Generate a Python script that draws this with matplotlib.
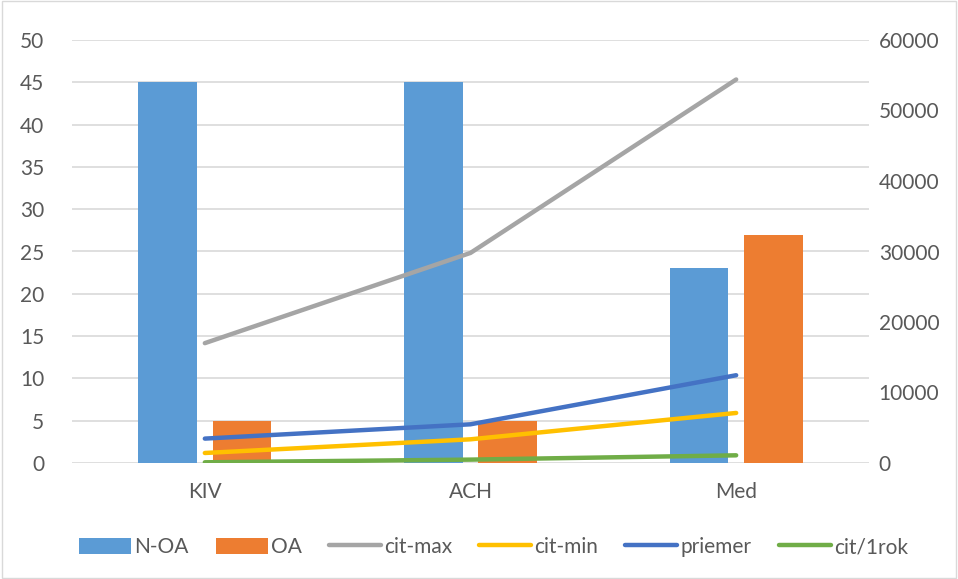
import matplotlib
matplotlib.use("Agg")
import matplotlib.pyplot as plt
import numpy as np
from matplotlib.patches import Rectangle

categories = ["KIV", "ACH", "Med"]
n_oa = [45, 45, 23]
oa = [5, 5, 27]
cit_max = [17000, 29800, 54400]
cit_min = [1420, 3360, 7100]
priemer = [3460, 5490, 12450]
cit_1rok = [100, 480, 1090]

left_ticks = [0, 5, 10, 15, 20, 25, 30, 35, 40, 45, 50]
right_ticks = [0, 10000, 20000, 30000, 40000, 50000, 60000]

plt.rcParams['font.family'] = ['Lato', 'DejaVu Sans']
txt = "#595959"
grid = "#D9D9D9"

fig = plt.figure(figsize=(9.58, 5.79), dpi=100)
W, H = 958, 579
ax = fig.add_axes([72 / W, 1 - 463 / H, (869 - 72) / W, (463 - 40) / H])
ax2 = ax.twinx()

x = np.arange(len(categories))
bw = 0.22
ax.bar(x - 0.14, n_oa, bw, color="#5B9BD5", label="N-OA", zorder=2)
ax.bar(x + 0.14, oa, bw, color="#ED7D31", label="OA", zorder=2)
ax.set_xlim(-0.5, 2.5)
ax.set_ylim(0, 50)
ax.set_yticks(left_ticks)
ax.set_xticks(x)
ax.set_xticklabels(categories)
ax.yaxis.grid(True, color=grid, linewidth=1.2, zorder=0)
ax.set_axisbelow(True)
for s in ax.spines.values():
    s.set_visible(False)
for s in ax2.spines.values():
    s.set_visible(False)
ax.tick_params(axis='both', length=0, labelsize=15, colors=txt)
ax.tick_params(axis='y', pad=20)
ax.tick_params(axis='x', pad=14)

series = [("cit-max", cit_max, "#A5A5A5"), ("cit-min", cit_min, "#FFC000"),
          ("priemer", priemer, "#4472C4"), ("cit/1rok", cit_1rok, "#70AD47")]
for name, vals, c in series:
    ax2.plot(x, vals, color=c, linewidth=3.2, solid_capstyle="round", label=name, zorder=3)
ax2.set_ylim(0, 60000)
ax2.set_yticks(right_ticks)
ax2.tick_params(axis='y', length=0, labelsize=15, colors=txt, pad=7)

h1, l1 = ax.get_legend_handles_labels()
h2, l2 = ax2.get_legend_handles_labels()
fig.legend(h1 + h2, l1 + l2, loc="center", bbox_to_anchor=(0.515, 1 - 547 / H),
           ncol=6, frameon=False, fontsize=15, labelcolor=txt, handlelength=2.5,
           handleheight=0.8, handletextpad=0.15, columnspacing=1.3)

fig.patches.append(Rectangle((0.002, 0.002), 0.996, 0.996, transform=fig.transFigure,
                             fill=False, edgecolor="#D9D9D9", linewidth=1))

fig.savefig("out.png", dpi=100)
